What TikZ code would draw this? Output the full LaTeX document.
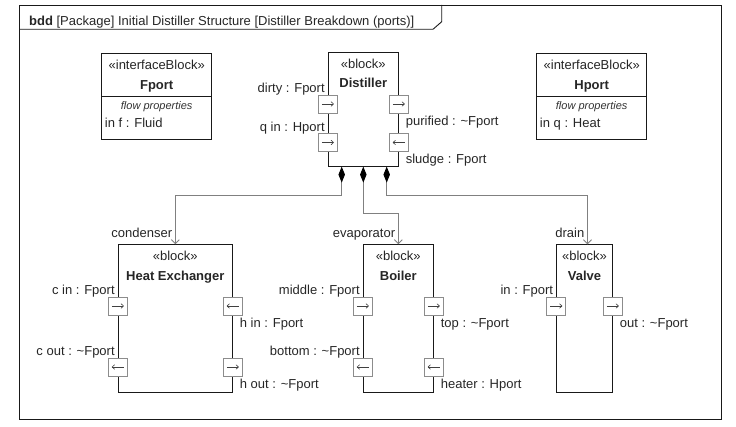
\documentclass[tikz,border=0pt]{standalone}
\usepackage{fontspec}
\setmainfont{Liberation Sans}
\usetikzlibrary{arrows.meta,positioning,calc}

\tikzset{
  txt/.style={font=\fontsize{13}{15}\selectfont, text=black!85, inner sep=0pt},
  nm/.style={font=\fontsize{13}{15}\selectfont\bfseries, text=black!85, inner sep=0pt},
  fp/.style={font=\fontsize{11}{13}\selectfont\itshape, text=black!80, inner sep=0pt},
  blk/.style={draw=black!90, line width=0.9pt, fill=white, inner sep=0pt},
  port/.style={draw=black!45, fill=white, line width=0.8pt, minimum width=19pt, minimum height=18pt, inner sep=0pt},
  parr/.style={-{To[length=3pt,width=5pt]}, black!75, line width=0.6pt},
  comp/.style={draw=black!50, line width=0.9pt,
    {Diamond[color=black,fill=black,length=16pt,width=6.5pt]}-{Straight Barb[length=4pt,width=8pt]}}
}

\begin{document}
\begin{tikzpicture}[x=1pt,y=-1pt]
  \useasboundingbox (0,0) rectangle (736,427);

  % frame
  \draw[line width=0.9pt, black!90] (19.5,5) rectangle (721.5,419.3);
  \draw[line width=0.9pt, black!90] (19.5,29.3) -- (433,29.3) -- (441.7,21.7) -- (441.7,5);
  \node[txt, anchor=base west] (hdr) at (29,25.5)
    {\textbf{bdd} [Package] Initial Distiller Structure [Distiller Breakdown (ports)]};

  % interface blocks
  \node[blk, minimum width=110pt, minimum height=86.6pt, anchor=north] (fport) at (156.7,52.7) {};
  \draw[line width=0.9pt, black!90] ($(fport.north west)+(0,44)$) -- ($(fport.north east)+(0,44)$);
  \node[txt, anchor=base] (fportst) at ($(fport.north)+(0,16.5)$) {«interfaceBlock»};
  \node[nm, anchor=base] (fportnm) at ($(fport.north)+(0,36.5)$) {Fport};
  \node[fp, anchor=base] (fportfp) at ($(fport.north)+(0,56.5)$) {flow properties};
  \node[txt, anchor=base west] (fportf) at ($(fport.north west)+(3.5,74.5)$) {in f : Fluid};

  \node[blk, minimum width=110pt, minimum height=86.6pt, anchor=north] (hport) at (591.7,52.7) {};
  \draw[line width=0.9pt, black!90] ($(hport.north west)+(0,44)$) -- ($(hport.north east)+(0,44)$);
  \node[txt, anchor=base] (hportst) at ($(hport.north)+(0,16.5)$) {«interfaceBlock»};
  \node[nm, anchor=base] (hportnm) at ($(hport.north)+(0,36.5)$) {Hport};
  \node[fp, anchor=base] (hportfp) at ($(hport.north)+(0,56.5)$) {flow properties};
  \node[txt, anchor=base west] (hportq) at ($(hport.north west)+(3.5,74.5)$) {in q : Heat};

  % blocks
  \node[blk, minimum width=70pt, minimum height=114pt, anchor=north] (dist) at (363.3,51.7) {};
  \node[blk, minimum width=114pt, minimum height=148pt, anchor=north] (hx) at (175.3,244.3) {};
  \node[blk, minimum width=70pt, minimum height=148pt, anchor=north] (boil) at (398.3,244.3) {};
  \node[blk, minimum width=55.6pt, minimum height=148pt, anchor=north] (valve) at (584.5,244.3) {};

  \foreach \b/\n in {dist/Distiller, hx/Heat Exchanger, boil/Boiler, valve/Valve}{
    \node[txt, anchor=base] (\b st) at ($(\b.north)+(0,16.5)$) {«block»};
    \node[nm, anchor=base] (\b nm) at ($(\b.north)+(0,36)$) {\n};
  }

  % ports
  \node[port] (dirty) at ($(dist.north west)+(0,52.3)$) {};
  \node[port] (qin) at ($(dist.north west)+(0,90.8)$) {};
  \node[port] (purified) at ($(dist.north east)+(0,52.3)$) {};
  \node[port] (sludge) at ($(dist.north east)+(0,90.8)$) {};

  \node[port] (cin) at ($(hx.north west)+(0,61.7)$) {};
  \node[port] (cout) at ($(hx.north west)+(0,122.7)$) {};
  \node[port] (hin) at ($(hx.north east)+(0,61.7)$) {};
  \node[port] (hout) at ($(hx.north east)+(0,122.7)$) {};

  \node[port] (middle) at ($(boil.north west)+(0,61.7)$) {};
  \node[port] (bottom) at ($(boil.north west)+(0,122.7)$) {};
  \node[port] (top) at ($(boil.north east)+(0,61.7)$) {};
  \node[port] (heater) at ($(boil.north east)+(0,122.7)$) {};

  \node[port] (vin) at ($(valve.north west)+(0,61.7)$) {};
  \node[port] (vout) at ($(valve.north east)+(0,61.7)$) {};

  \foreach \p in {dirty,qin,purified,cin,hout,middle,top,vin,vout}
    \draw[parr] ([xshift=-6pt]\p.center) -- ([xshift=6pt]\p.center);
  \foreach \p in {sludge,cout,hin,bottom,heater}
    \draw[parr] ([xshift=6pt]\p.center) -- ([xshift=-6pt]\p.center);

  % port labels
  \foreach \p/\t in {dirty/dirty : Fport, qin/q in : Hport, cin/c in : Fport,
      cout/c out : \textasciitilde Fport, middle/middle : Fport,
      bottom/bottom : \textasciitilde Fport, vin/in : Fport}
    \node[txt, anchor=base east, xshift=-3pt, yshift=2pt] (\p lb) at (\p.north) {\t};
  \foreach \p/\t in {purified/purified : \textasciitilde Fport, sludge/sludge : Fport,
      hin/h in : Fport, hout/h out : \textasciitilde Fport, top/top : \textasciitilde Fport,
      heater/heater : Hport, vout/out : \textasciitilde Fport}
    \node[txt, anchor=base west, xshift=-3pt, yshift=-12pt] (\p lb) at (\p.south east) {\t};

  % composition
  \coordinate (dA) at ([xshift=-21.6pt]dist.south);
  \coordinate (dC) at ([xshift=23.4pt]dist.south);
  \draw[comp] (dA) -- ++(0,28.6) -| (hx.north);
  \draw[comp] (dist.south) -- ++(0,46.6) -| (boil.north);
  \draw[comp] (dC) -- ++(0,28.6) -| ([xshift=3pt]valve.north);

  \node[txt, anchor=base east, xshift=-3pt, yshift=7pt] (lcond) at (hx.north) {condenser};
  \node[txt, anchor=base east, xshift=-3pt, yshift=7pt] (levap) at (boil.north) {evaporator};
  \node[txt, anchor=base east, xshift=0pt, yshift=7pt] (ldrain) at (valve.north) {drain};
\end{tikzpicture}
\end{document}
